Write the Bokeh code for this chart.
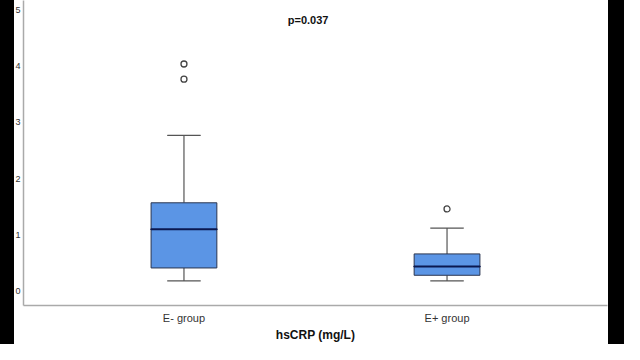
from bokeh.plotting import figure
from bokeh.models import FactorRange, Label, ColumnDataSource, FixedTicker
from bokeh.embed import file_html
from bokeh.resources import INLINE

groups = ["E- group", "E+ group"]
lower_whisker = [0.18, 0.18]
q1 = [0.41, 0.28]
median = [1.10, 0.435]
q3 = [1.57, 0.66]
upper_whisker = [2.77, 1.12]
outlier_group = ["E- group", "E- group", "E+ group"]
outlier_value = [4.04, 3.77, 1.46]
y_ticks = [0, 1, 2, 3, 4, 5]
p_text = "p=0.037"
x_title = "hsCRP (mg/L)"

src = ColumnDataSource(dict(g=groups, lw=lower_whisker, q1=q1, med=median, q3=q3, uw=upper_whisker))

p = figure(width=624, height=344, output_backend="svg", toolbar_location=None,
           x_range=FactorRange(factors=groups, range_padding=0.11, range_padding_units="absolute"),
           y_range=(-0.258, 5.17),
           min_border_left=23, min_border_right=17, min_border_top=0, min_border_bottom=36,
           styles={"background": "linear-gradient(to right, black 0px, black 14px, white 14px, white 608px, black 608px, black 624px)"})
p.outline_line_color = None
p.background_fill_color = "white"
p.border_fill_color = None
p.grid.visible = False

# whiskers
p.segment(x0="g", y0="q3", x1="g", y1="uw", source=src, line_color="#555555", line_width=1.2)
p.segment(x0="g", y0="lw", x1="g", y1="q1", source=src, line_color="#555555", line_width=1.2)
p.rect(x="g", y="uw", width=0.125, height=0.0001, source=src, line_color="#555555", line_width=1.2)
p.rect(x="g", y="lw", width=0.125, height=0.0001, source=src, line_color="#555555", line_width=1.2)
# boxes
p.vbar(x="g", bottom="q1", top="q3", width=0.25, source=src, fill_color="#5B95E5",
       line_color="#2a3550", line_width=1)
p.rect(x="g", y="med", width=0.25, height=0.0001, source=src, line_color="#0a1850", line_width=2)
# outliers
p.scatter(x=outlier_group, y=outlier_value, size=6, marker="circle", fill_color="white",
          line_color="#444444", line_width=1.3)

p.add_layout(Label(x=0.972, y=4.82, text=p_text, text_font="Liberation Sans", text_font_style="bold",
                   text_font_size="11px", text_align="center", text_baseline="middle", text_color="#111111"))

p.yaxis.ticker = FixedTicker(ticks=y_ticks)
for ax in [p.xaxis[0], p.yaxis[0]]:
    ax.axis_line_color = "#aaaaaa"
    ax.axis_line_width = 1.5
    ax.major_tick_line_color = None
    ax.minor_tick_line_color = None
    ax.major_tick_out = 0
    ax.major_tick_in = 0
    ax.minor_tick_out = 0
    ax.minor_tick_in = 0
    ax.major_label_text_font = "Liberation Sans"
    ax.major_label_text_color = "#333333"
p.yaxis.major_label_text_font_size = "9px"
p.yaxis.major_label_standoff = 3
p.xaxis.major_label_text_font_size = "11px"
p.xaxis.major_label_standoff = 6
p.xaxis.axis_label = x_title
p.xaxis.axis_label_text_font = "Liberation Sans"
p.xaxis.axis_label_text_font_style = "bold"
p.xaxis.axis_label_text_font_size = "12px"
p.xaxis.axis_label_text_color = "#111111"
p.xaxis.axis_label_standoff = 1

open("out.html", "w").write(file_html(p, INLINE))
